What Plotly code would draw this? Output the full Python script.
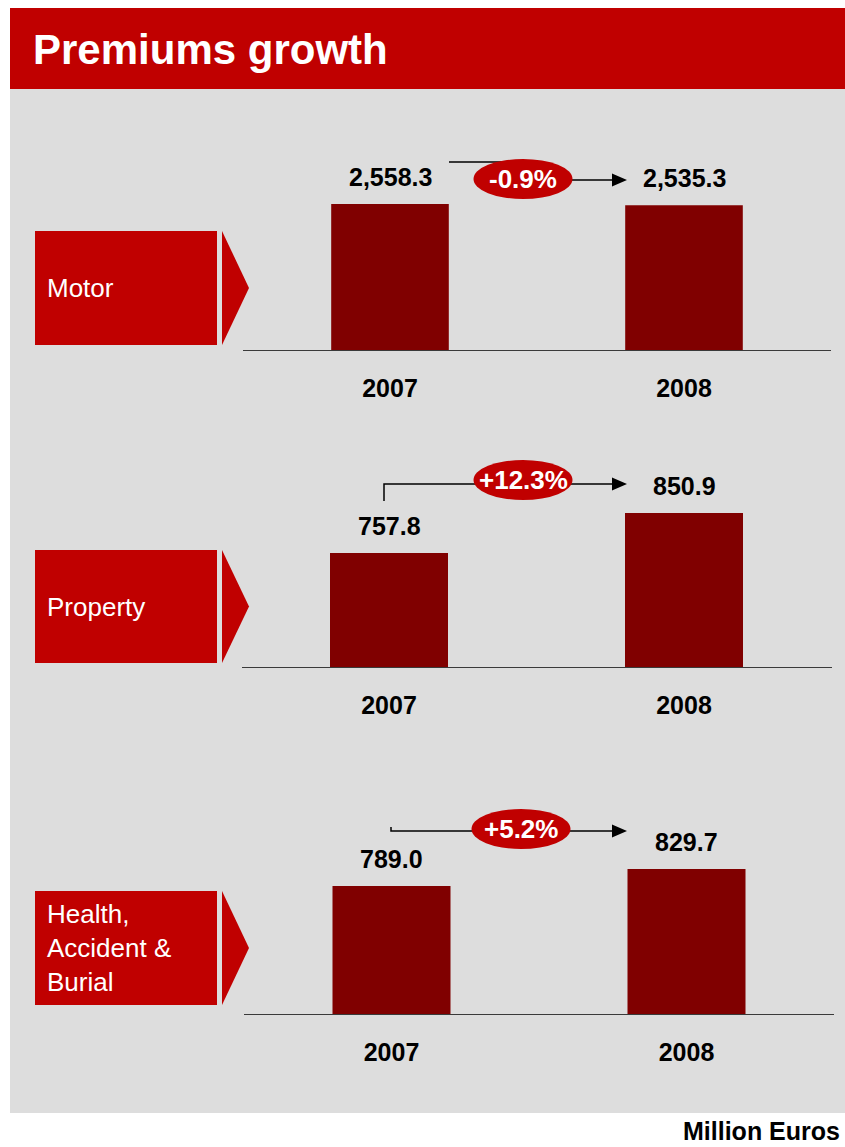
import plotly.graph_objects as go

W, H = 845, 1147


def px(x):
    return x / W


def py(y):
    return 1 - y / H


# ---------------- data ----------------
segments = ["Motor", "Property", "Health,<br>Accident &<br>Burial"]
years = ["2007", "2008"]
premiums_2007 = [2558.3, 757.8, 789.0]
premiums_2008 = [2535.3, 850.9, 829.7]
growth_labels = ["-0.9%", "+12.3%", "+5.2%"]
unit_label = "Million Euros"
title_text = "Premiums growth"

# ---------------- layout / styling (pixel geometry) ----------------
RED = "#C00000"
BAR = "#800000"
GREY = "#DDDDDD"
FONT = "Liberation Sans, Arial, sans-serif"

panels = [
    dict(axis_y=350, x0=243, x1=831, yrange=[0, 3504], box=(231, 345),
         path=[(449, 162), (523, 162), (523, 180), (613, 180)], tip=(627, 180),
         ell=(523, 179, 99, 40)),
    dict(axis_y=667, x0=241.5, x1=831.5, yrange=[492.5, 957.9], box=(550, 663),
         path=[(384, 501), (384, 484), (612, 484)], tip=(627, 484),
         ell=(523, 480, 99, 40)),
    dict(axis_y=1014, x0=244, x1=834, yrange=[482.6, 961.4], box=(891, 1005),
         path=[(391, 827), (391, 831), (612, 831)], tip=(627, 831),
         ell=(521, 829, 99, 40)),
]
DOMAIN_H = 200

fig = go.Figure()
shapes = []
annotations = []

# background
shapes.append(dict(type="rect", xref="paper", yref="paper", x0=px(10), x1=px(845),
                   y0=py(1113), y1=py(89), fillcolor=GREY, line_width=0, layer="below"))
shapes.append(dict(type="rect", xref="paper", yref="paper", x0=px(10), x1=px(845),
                   y0=py(89), y1=py(8), fillcolor=RED, line_width=0, layer="below"))
annotations.append(dict(text=title_text, xref="paper", yref="paper", x=px(31), y=py(49),
                        xanchor="left", yanchor="middle", showarrow=False,
                        font=dict(family=FONT, size=42, color="white", weight="bold")))
annotations.append(dict(text=unit_label, xref="paper", yref="paper", x=px(842), y=py(1131),
                        xanchor="right", yanchor="middle", showarrow=False,
                        font=dict(family=FONT, size=25, color="black", weight="bold")))

layout_axes = {}
for i, p in enumerate(panels):
    n = "" if i == 0 else str(i + 1)
    xa, ya = "x" + n, "y" + n
    v = [premiums_2007[i], premiums_2008[i]]
    fig.add_trace(go.Bar(x=years, y=v, xaxis=xa, yaxis=ya, width=0.4,
                         marker=dict(color=BAR, line_width=0), showlegend=False,
                         hoverinfo="skip"))
    layout_axes["xaxis" + n] = dict(
        domain=[px(p["x0"]), px(p["x1"])], anchor=ya, type="category",
        range=[-0.5, 1.5], showline=True, linecolor="#3a3a3a", linewidth=1,
        ticks="outside", ticklen=16, tickcolor="rgba(0,0,0,0)", showgrid=False,
        zeroline=False, fixedrange=True,
        tickfont=dict(family=FONT, size=25, color="black", weight="bold"))
    layout_axes["yaxis" + n] = dict(
        domain=[py(p["axis_y"]), py(p["axis_y"] - DOMAIN_H)], anchor=xa,
        range=p["yrange"], visible=False, showgrid=False, zeroline=False, fixedrange=True)

    # value labels above bars (category index positions)
    for j, val in enumerate(v):
        annotations.append(dict(text=f"{val:,.1f}", xref=xa, yref=ya, x=j, y=val,
                                yshift=27, yanchor="middle", xanchor="center",
                                showarrow=False,
                                font=dict(family=FONT, size=25, color="black", weight="bold")))

    # label box with chevron
    b0, b1 = p["box"]
    shapes.append(dict(type="rect", xref="paper", yref="paper", x0=px(35), x1=px(217),
                       y0=py(b1), y1=py(b0), fillcolor=RED, line_width=0))
    mid = (b0 + b1) / 2
    shapes.append(dict(type="path", xref="paper", yref="paper",
                       path=f"M {px(222)},{py(b0)} L {px(249)},{py(mid)} L {px(222)},{py(b1)} Z",
                       fillcolor=RED, line_width=0))
    annotations.append(dict(text=segments[i], xref="paper", yref="paper", x=px(45), y=py(mid),
                            xanchor="left", yanchor="middle", align="left", showarrow=False,
                            font=dict(family=FONT, size=26, color="white")))

    # growth connector
    pts = p["path"]
    d = "M " + " L ".join(f"{px(a)},{py(b)}" for a, b in pts)
    shapes.append(dict(type="path", xref="paper", yref="paper", path=d,
                       line=dict(color="black", width=1.5)))
    tx, ty = p["tip"]
    shapes.append(dict(type="path", xref="paper", yref="paper",
                       path=f"M {px(tx)},{py(ty)} L {px(tx-15)},{py(ty-6.5)} L {px(tx-15)},{py(ty+6.5)} Z",
                       fillcolor="black", line_width=0))
    cx, cy, ew, eh = p["ell"]
    shapes.append(dict(type="circle", xref="paper", yref="paper",
                       x0=px(cx - ew / 2), x1=px(cx + ew / 2),
                       y0=py(cy + eh / 2), y1=py(cy - eh / 2),
                       fillcolor=RED, line_width=0))
    annotations.append(dict(text=growth_labels[i], xref="paper", yref="paper", x=px(cx),
                            y=py(cy), xanchor="center", yanchor="middle", showarrow=False,
                            font=dict(family=FONT, size=26, color="white", weight="bold")))

fig.update_layout(
    width=W, height=H, margin=dict(l=0, r=0, t=0, b=0),
    paper_bgcolor="white", plot_bgcolor="rgba(0,0,0,0)",
    showlegend=False, shapes=shapes, annotations=annotations, bargap=0.6,
    **layout_axes,
)

fig.write_html(
    "out.html",
    config={"displayModeBar": False},
    post_script="document.body.style.margin='0';document.body.style.overflow='hidden';",
)
